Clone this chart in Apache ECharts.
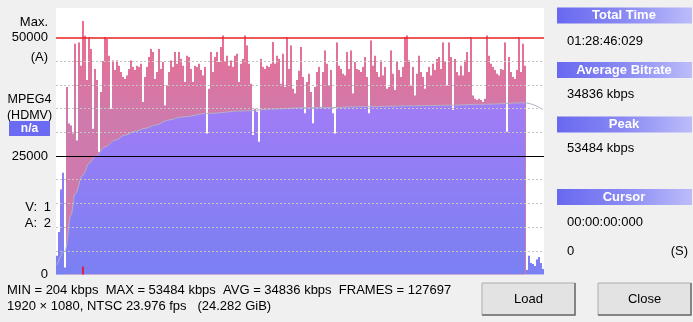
<!DOCTYPE html>
<html><head><meta charset="utf-8">
<script src="https://cdn.jsdelivr.net/npm/echarts@6/dist/echarts.min.js"></script>
<style>html,body{margin:0;padding:0;background:#f0f0f0;}#c{width:693px;height:322px;}</style>
</head><body><div id="c"></div>
<script>
// Bitrate per time slot (kbps)
const rateA = [4000, 9000, 18000, 21500, 1500, 39600, 31900, 31500, 29800, 48700,
  28300, 49000, 44100, 53484, 50400, 41000, 50100, 47600, 30800, 43400,
  41000, 25900, 38500, 45000, 50100, 49700, 46200, 35000, 45200, 43100,
  45200, 44100, 42700, 41700, 41300, 42000, 43400, 45200, 43800, 43100,
  44100, 43800, 44500, 36400, 41700, 43800, 45900, 47600, 46900, 41300,
  42700, 47600, 43400, 44800, 35700, 39900, 42700, 45200, 43800, 46900];
const rateB = [44500, 46950, 45500, 44100, 40600, 46200, 45900, 43400, 40600, 44100,
  43800, 44500, 43100, 42000, 43800, 29750, 39200, 46950, 42700, 45900,
  46950, 44800, 48000, 50450, 44800, 46200, 44100, 45200, 43800, 46200,
  46600, 40600, 44500, 45500, 50450, 48350, 44500, 40300, 29400, 35000,
  34300, 28000, 45500, 43800, 43400, 44100, 43800, 44500, 49100, 44500,
  46200, 45500, 40300, 46600, 39600, 50100, 43400, 48350, 39200, 38200,
  41000, 43000];
const rateC = [48000, 41700, 34000, 40600, 42400, 38500, 31900, 39600, 42700, 43800,
  35400, 42700, 47300, 44500, 39900, 43100, 34000, 29750, 49000, 44100,
  43400, 42400, 42000, 46950, 43400, 47300, 38200, 44800, 43400, 43100,
  42700, 43800, 45900, 41700, 34000, 49400, 44100, 46200, 42700, 41700,
  45200, 42000, 43800, 39200, 39600, 47300, 42400, 38900, 44800, 43100,
  41700, 43800, 50100, 50450, 45200, 39900, 43800, 37800];
const rateD = [42400, 46200, 42700, 41700, 39200, 42700, 43800, 42000, 44500, 43100,
  45500, 45900, 43400, 49000, 44800, 39900, 49000, 45900, 34700, 45500,
  42700, 42000, 44100, 42000, 45200, 46950, 42700, 50100, 37800, 37100,
  36800, 37100, 36800, 36400, 37100, 50450, 46200, 44500, 43800, 43100,
  42400, 42000, 43400, 43100, 49000, 30100, 45900, 42700, 41700, 41300,
  43100, 50100, 42700, 48700, 44100];
const rateTail = [1000, 4000, 2500, 2200, 1800, 3200, 3700, 2400, 1200];
const rate = rateA.concat(rateB, rateC, rateD, rateTail);
const categories = rate.map((_, i) => String(i));

// Running average curve, read at sample slots
const avgIdx = [0, 4, 7, 9, 13, 16, 19, 24, 29, 34, 39, 44, 49, 56, 62, 76, 93, 109, 122, 136, 153, 182, 196, 213, 234];
const avgVal = [2000, 5000, 12500, 17000, 21000, 23400, 24800, 26900, 28300, 29400, 30200, 30800, 31500, 32600, 33200, 34000, 34500, 34900, 35150, 35200, 35400, 35600, 35700, 35900, 36200];
const avgTailIdx = [243];
const avgTailVal = [34800];

const yTickLabels = [0, 25000, 50000];
const gridValues = [5000, 10000, 15000, 20000, 30000, 35000, 40000, 45000];
const refLine = 25000, maxLine = 50000;
const cursorSlot = 13;

const stats = { min: 204, max: 53484, avg: 34836, frames: 127697, total: '01:28:46:029', cursor: '00:00:00:000' };
const Y_MAX = 56200;
const purpleHead = 5;       // leading slots drawn purple
const areaEnd = avgIdx[avgIdx.length - 1];

const FONT = 'Liberation Sans';
const pink = { type: 'linear', x: 0, y: 20, x2: 0, y2: 115, global: true,
  colorStops: [{ offset: 0, color: '#f06c8c' }, { offset: 1, color: '#cf7aac' }] };
const purple = { type: 'linear', x: 0, y: 95, x2: 0, y2: 274, global: true,
  colorStops: [{ offset: 0, color: '#a37cf7' }, { offset: 1, color: '#7a80f2' }] };

const barData = rate.map((v, i) => (i < purpleHead || i > areaEnd) ? { value: v, itemStyle: { color: purple } } : v);
const whiteTop = rate.map(v => Y_MAX - v);
const avgArea = categories.map(() => null);
avgIdx.forEach((k, j) => { avgArea[k] = avgVal[j]; });
const avgLine = avgArea.slice();
avgTailIdx.forEach((k, j) => { avgLine[k] = avgTailVal[j]; });
const empty = categories.map(() => null);

const band = { type: 'linear', x: 0, y: 0, x2: 1, y2: 0,
  colorStops: [{ offset: 0, color: '#6868f0' }, { offset: 0.5, color: '#8a8af4' }, { offset: 1, color: '#bcbcfa' }] };
const txt = (x, y, s, o) => ({ type: 'text', x, y, style: Object.assign({ text: s, font: '13px "' + FONT + '"', fill: '#000', textVerticalAlign: 'middle', textAlign: 'left' }, o || {}) });
const hdr = (y, s) => [
  { type: 'rect', shape: { x: 557, y, width: 135, height: 16 }, style: { fill: band } },
  txt(624, y + 8, s, { textAlign: 'center', fill: '#fff', font: 'bold 13px "' + FONT + '"' })
];
const btn = (x, w, s) => [
  { type: 'rect', shape: { x: x, y: 283, width: w, height: 32 }, style: { fill: '#e3e3e3', stroke: '#adadad', lineWidth: 1 } },
  { type: 'polyline', shape: { points: [[x + w, 283], [x + w, 315], [x, 315]] }, style: { stroke: '#6e6e6e', lineWidth: 1.5, fill: null } },
  txt(x + w / 2, 299.5, s, { textAlign: 'center' })
];
const mlSeries = (name, z, data, lineStyle) => ({ name, type: 'line', data: empty, z, symbol: 'none', silent: true,
  markLine: { silent: true, symbol: 'none', label: { show: false }, animation: false, lineStyle, emphasis: { disabled: true }, data } });

const chart = echarts.init(document.getElementById('c'), null, { renderer: 'canvas' });
chart.setOption({
  backgroundColor: '#f0f0f0',
  animation: false,
  grid: { left: 56, top: 8, width: 488, height: 266.5, show: true, backgroundColor: '#ffffff', borderWidth: 0 },
  xAxis: { type: 'category', data: categories, show: false, boundaryGap: true },
  yAxis: { type: 'value', min: 0, max: Y_MAX, interval: 25000,
    axisLine: { show: false }, axisTick: { show: false }, splitLine: { show: false },
    axisLabel: { margin: 8, color: '#000', fontFamily: FONT, fontSize: 13, showMaxLabel: false,
      formatter: v => yTickLabels.indexOf(v) >= 0 ? String(v) : '' } },
  series: [
    { name: 'rate', type: 'bar', data: barData, z: 1, barCategoryGap: '0%', barGap: '-100%',
      itemStyle: { color: pink }, silent: true },
    { name: 'avgArea', type: 'line', data: avgArea, z: 2, connectNulls: true, smooth: 0.4, smoothMonotone: 'x',
      symbol: 'none', lineStyle: { width: 0 }, areaStyle: { color: purple, opacity: 1 }, silent: true },
    { name: 'base', type: 'bar', stack: 'w', data: rate, z: 1, barCategoryGap: '0%', barGap: '-100%',
      itemStyle: { color: 'rgba(0,0,0,0)' }, silent: true },
    { name: 'above', type: 'bar', stack: 'w', data: whiteTop, z: 3, barCategoryGap: '0%', barGap: '-100%',
      itemStyle: { color: '#ffffff' }, silent: true },
    { name: 'avg', type: 'line', data: avgLine, z: 4, connectNulls: true, smooth: 0.4, smoothMonotone: 'x',
      symbol: 'none', lineStyle: { width: 1, color: '#b4b0c4' }, silent: true },
    mlSeries('grid', 5, gridValues.map(v => ({ yAxis: v })), { color: '#c4c4c4', type: [2, 2], width: 1 }),
    mlSeries('ref', 6, [{ yAxis: refLine }], { color: '#000000', type: 'solid', width: 1 }),
    mlSeries('max', 6, [{ yAxis: maxLine }], { color: '#e82020', type: 'solid', width: 1.5 }),
    mlSeries('cursor', 6, [[{ xAxis: cursorSlot, yAxis: 0 }, { xAxis: cursorSlot, yAxis: 1700 }]], { color: '#e0204a', type: 'solid', width: 2 })
  ],
  graphic: [].concat(
    [
      txt(48, 22, 'Max.', { textAlign: 'right' }),
      txt(48, 57, '(A)', { textAlign: 'right' }),
      txt(29.5, 100, 'MPEG4', { textAlign: 'center', font: '12.5px "' + FONT + '"' }),
      txt(29.5, 116, '(HDMV)', { textAlign: 'center', font: '12.5px "' + FONT + '"' }),
      { type: 'rect', shape: { x: 9, y: 121, width: 41, height: 15 }, style: { fill: '#6a6af2' } },
      txt(29.5, 128.5, 'n/a', { textAlign: 'center', fill: '#fff', font: 'bold 12px "' + FONT + '"' }),
      txt(37, 207, 'V:', { textAlign: 'right' }), txt(51, 207, '1', { textAlign: 'right' }),
      txt(37, 223, 'A:', { textAlign: 'right' }), txt(51, 223, '2', { textAlign: 'right' }),
      txt(7, 290, 'MIN = ' + stats.min + ' kbps  MAX = ' + stats.max + ' kbps  AVG = ' + stats.avg + ' kbps  FRAMES = ' + stats.frames),
      txt(7, 306, '1920 \u00d7 1080, NTSC 23.976 fps   (24.282 GiB)')
    ],
    hdr(7.5, 'Total Time'), [txt(567, 41.5, stats.total)],
    hdr(62, 'Average Bitrate'), [txt(567, 94.5, stats.avg + ' kbps')],
    hdr(116.5, 'Peak'), [txt(567, 148.5, stats.max + ' kbps')],
    hdr(189, 'Cursor'), [txt(567, 222, stats.cursor), txt(567, 251.5, '0'), txt(688, 251.5, '(S)', { textAlign: 'right' })],
    btn(482, 93, 'Load'), btn(598, 93, 'Close')
  )
});
</script></body></html>
